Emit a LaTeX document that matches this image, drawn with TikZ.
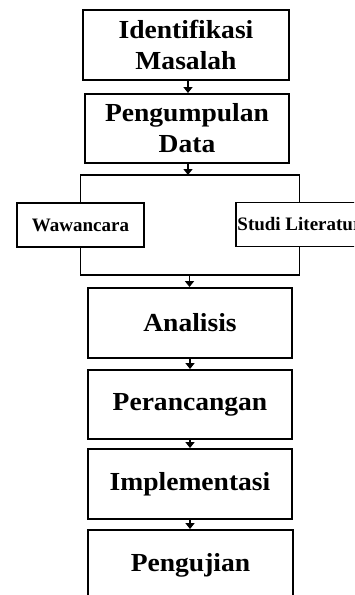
\documentclass[tikz,border=0pt]{standalone}
\usepackage{fontspec}
\setmainfont{Liberation Serif}
\newfontfamily\stepfont[FakeStretch=1.06]{Liberation Serif Bold}
\newfontfamily\sidefont{Liberation Serif Bold}
\usetikzlibrary{arrows.meta}
\begin{document}
\begin{tikzpicture}[x=1pt,y=1pt,
  stepbox/.style={draw, line width=1.9pt, inner sep=0pt, align=center,
    font=\stepfont\fontsize{26}{31}\selectfont},
  sidebox/.style={draw, line width=1.9pt, inner sep=0pt, align=center,
    minimum width=127pt, minimum height=44pt,
    font=\sidefont\fontsize{19}{23}\selectfont},
  link/.style={line width=1.9pt},
  flow/.style={line width=1.4pt, -{Triangle[width=9pt,length=6pt]}}]
\useasboundingbox (0,0) rectangle (354,-595);
\clip (0,0) rectangle (354,-595);
\fill[white] (0,0) rectangle (354,-595);

% main steps
\node[stepbox, minimum width=206pt, minimum height=70pt] (idm) at (186,-45) {Identifikasi\\Masalah};
\node[stepbox, minimum width=204pt, minimum height=69pt] (pd) at (187,-128.5) {Pengumpulan\\Data};
\node[stepbox, minimum width=204pt, minimum height=70pt] (an) at (190,-323) {Analisis};
\node[stepbox, minimum width=204pt, minimum height=69pt] (pr) at (190,-404.5) {Perancangan};
\node[stepbox, minimum width=204pt, minimum height=70pt] (im) at (190,-484) {Implementasi};
\node[stepbox, minimum width=205pt, minimum height=70pt] (pu) at (190.5,-565) {Pengujian};

% data collection branches
\node[sidebox] (ww) at (80.5,-225) {Wawancara};
\node[sidebox, anchor=west] (sl) at (235,-224.5) {Studi Literatur};

\coordinate (split) at (188,-175);
\coordinate (join) at (189.5,-275);

\draw[link] (ww.north) |- (split) -| (sl.north);
\draw[link] (ww.south) |- (join) -| (sl.south);

% flow arrows
\draw[flow] (idm.south -| 188,0) -- (pd.north -| 188,0);
\draw[flow] (pd.south -| 188,0) -- (split);
\draw[flow] (join) -- (an.north -| join);
\draw[flow] (an.south) -- (pr.north);
\draw[flow] (pr.south) -- (im.north);
\draw[flow] (im.south) -- (pu.north -| im.south);
\end{tikzpicture}
\end{document}
